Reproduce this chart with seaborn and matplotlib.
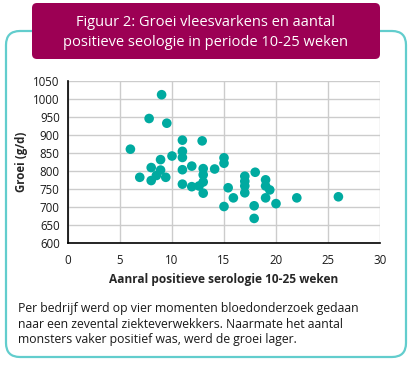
import numpy as np
import pandas as pd
import seaborn as sns
import matplotlib.pyplot as plt
from matplotlib.patches import FancyBboxPatch

# Data
positief = [9, 7.8, 9.5, 6, 11, 11, 11, 11, 11, 10, 8.9, 8, 8.9, 8.5, 6.9, 8, 9.4,
            11.9, 11.9, 12.6, 12.9, 13, 13, 13, 13, 14.1, 15, 15, 15, 15.4, 15.9,
            17, 17, 17, 17, 18, 17.9, 17.9, 19, 19, 19.4, 19, 20, 22, 26]
groei = [1012, 946, 933, 861, 886, 855, 838, 804, 764, 842, 832, 810, 803, 788, 783, 774, 783,
         814, 757, 759, 884, 807, 790, 770, 739, 806, 837, 822, 702, 754, 726,
         786, 772, 759, 740, 797, 704, 669, 776, 759, 748, 726, 710, 726, 729]
x_ticks = [0, 5, 10, 15, 20, 25, 30]
y_ticks = list(range(600, 1051, 50))

df = pd.DataFrame({'positief': positief, 'groei': groei})

sns.set_style('white')
plt.rcParams['font.family'] = ['Open Sans', 'DejaVu Sans']

W, H = 412, 366
fig = plt.figure(figsize=(W / 100, H / 100), dpi=100)

# Overlay in pixel coordinates for the frame, title box and texts
bg = fig.add_axes([0, 0, 1, 1], zorder=0)
bg.set_xlim(0, W)
bg.set_ylim(H, 0)
bg.axis('off')

frame = FancyBboxPatch((6, 31), 400, 326, boxstyle='round,pad=0,rounding_size=14',
                       facecolor='white', edgecolor='#62cdcd', linewidth=1.6)
bg.add_patch(frame)
title_box = FancyBboxPatch((32, 3), 348, 56, boxstyle='round,pad=0,rounding_size=5',
                           facecolor='#9c0054', edgecolor='none')
bg.add_patch(title_box)
bg.text(206, 22, 'Figuur 2: Groei vleesvarkens en aantal', color='white', fontsize=10.5,
        ha='center', va='center', fontweight='medium')
bg.text(206, 43, 'positieve seologie in periode 10-25 weken', color='white', fontsize=10.5,
        ha='center', va='center', fontweight='medium')

footer = ('Per bedrijf werd op vier momenten bloedonderzoek gedaan\n'
          'naar een zevental ziekteverwekkers. Naarmate het aantal\n'
          'monsters vaker positief was, werd de groei lager.')
bg.text(18, 302, footer, color='#1a1a1a', fontsize=8.8, ha='left', va='top', linespacing=1.25)

# Scatter plot
ax = fig.add_axes([68 / W, 1 - 243.3 / H, 312 / W, 162.3 / H], zorder=1)
ax.set_facecolor('none')
sns.scatterplot(data=df, x='positief', y='groei', ax=ax, color='#00aaa0',
                s=48, edgecolor='none', linewidth=0, zorder=3)
ax.set_xlim(0, 30)
ax.set_ylim(600, 1050)
ax.set_xticks(x_ticks)
ax.set_yticks(y_ticks)
ax.grid(True, color='#cccccc', linewidth=1)
ax.set_axisbelow(True)
for side in ['top', 'right']:
    ax.spines[side].set_visible(False)
for side in ['left', 'bottom']:
    ax.spines[side].set_color('black')
    ax.spines[side].set_linewidth(1.2)
ax.tick_params(axis='y', length=0, labelsize=8.3, pad=6, labelcolor='#1a1a1a')
ax.tick_params(axis='x', length=0, labelsize=8.3, pad=8, labelcolor='#1a1a1a')
ax.set_xlabel('Aanral positieve serologie 10-25 weken', fontsize=8.6, fontweight='bold',
              labelpad=4)
ax.set_ylabel('Groei (g/d)', fontsize=8.3, fontweight='bold', labelpad=4)

fig.savefig('out.png', dpi=100)
